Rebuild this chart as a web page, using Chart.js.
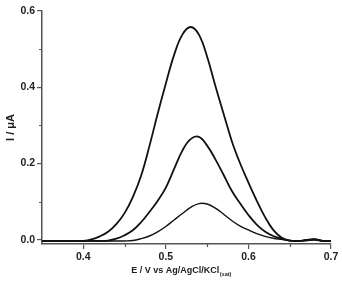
<!DOCTYPE html>
<html>
<head>
<meta charset="utf-8">
<script src="https://cdn.jsdelivr.net/npm/chart.js@4.4.1/dist/chart.umd.min.js"></script>
<style>
html,body{margin:0;padding:0;background:#fff;}
#wrap{position:relative;width:342px;height:289px;}
</style>
</head>
<body>
<div id="wrap"><canvas id="c" width="342" height="289"></canvas></div>
<script>
// Potential axis (V)
const potentials = [0.35,0.36,0.37,0.38,0.39,0.40,0.41,0.42,0.43,0.44,0.45,0.46,0.47,0.48,0.49,0.50,0.51,0.52,0.53,0.54,0.55,0.56,0.57,0.58,0.59,0.60,0.61,0.62,0.63,0.64,0.65,0.66,0.67,0.68,0.69,0.70];
// Current (µA) - largest peak
const currentHigh = [-0.003,-0.003,-0.003,-0.003,-0.003,-0.003,0.001,0.009,0.021,0.041,0.070,0.112,0.168,0.245,0.330,0.410,0.485,0.538,0.558,0.538,0.480,0.403,0.330,0.258,0.200,0.150,0.103,0.060,0.026,0.006,-0.002,-0.003,-0.002,0.000,-0.003,-0.003];
// Current (µA) - middle peak
const currentMid = [-0.003,-0.003,-0.003,-0.003,-0.003,-0.003,-0.003,-0.003,-0.002,0.003,0.012,0.025,0.046,0.073,0.102,0.137,0.186,0.234,0.264,0.270,0.247,0.211,0.170,0.128,0.095,0.065,0.040,0.022,0.010,0.003,-0.002,-0.003,-0.001,0.001,-0.003,-0.003];
// Current (µA) - smallest peak
const currentLow = [-0.003,-0.003,-0.003,-0.003,-0.003,-0.003,-0.003,-0.003,-0.003,-0.003,-0.003,-0.002,0.003,0.010,0.021,0.035,0.052,0.069,0.085,0.095,0.094,0.083,0.067,0.050,0.036,0.026,0.016,0.009,0.004,0.001,-0.002,-0.003,0.000,0.002,-0.003,-0.004];

const xTicks = [0.4,0.5,0.6,0.7];
const xMinorTicks = [0.45,0.55,0.65];
const yTicks = [0.0,0.2,0.4,0.6];
const yMinorTicks = [0.1,0.3,0.5];

const axisColor = '#555';
const textColor = '#222';
const FONT = '"Liberation Sans", Arial, sans-serif';

function toXY(ys){ return potentials.map((x,i)=>({x:x,y:ys[i]})); }

const minorTicksPlugin = {
  id:'minorTicks',
  afterDraw(chart){
    const ctx = chart.ctx;
    const xs = chart.scales.x, ys = chart.scales.y;
    const ca = chart.chartArea;
    ctx.save();
    ctx.strokeStyle = axisColor;
    ctx.lineWidth = 1.2;
    ctx.beginPath();
    xMinorTicks.forEach(v=>{
      const px = Math.round(xs.getPixelForValue(v))+0.5;
      ctx.moveTo(px, ca.bottom); ctx.lineTo(px, ca.bottom+3);
    });
    yMinorTicks.forEach(v=>{
      const py = Math.round(ys.getPixelForValue(v))+0.5;
      ctx.moveTo(ca.left, py); ctx.lineTo(ca.left-3, py);
    });
    ctx.stroke();
    // subscript for the x title
    const t = chart.options.scales.x.title;
    ctx.font = 'bold 9px ' + FONT;
    const main = 'E / V vs Ag/AgCl/KCl';
    const full = t.text;
    const wFull = ctx.measureText(full).width;
    const wMain = ctx.measureText(main).width;
    const cx = (xs.left + xs.right)/2;
    const startX = cx - wFull/2;
    const titleY = xs.bottom - (9*1.2/2 + t.padding.bottom);
    ctx.fillStyle = textColor;
    ctx.font = 'bold 5.5px ' + FONT;
    ctx.textBaseline = 'middle';
    ctx.textAlign = 'left';
    ctx.fillText('(sat)', startX + wMain + 0.5, titleY + 4);
    ctx.restore();
  }
};

new Chart(document.getElementById('c'), {
  type:'line',
  data:{
    datasets:[
      {data:toXY(currentHigh), borderColor:'#111', borderWidth:1.8},
      {data:toXY(currentMid), borderColor:'#111', borderWidth:1.8},
      {data:toXY(currentLow), borderColor:'#111', borderWidth:1.4}
    ]
  },
  options:{
    responsive:false,
    animation:false,
    devicePixelRatio:1,
    layout:{padding:{top:11,right:11,left:0,bottom:0}},
    elements:{point:{radius:0}, line:{tension:0.4, fill:false}},
    plugins:{legend:{display:false}, tooltip:{enabled:false}},
    scales:{
      x:{
        type:'linear', min:0.35, max:0.70,
        afterBuildTicks(s){ s.ticks = xTicks.map(v=>({value:v})); },
        afterFit(s){ s.height = 45; },
        ticks:{color:textColor, font:{family:FONT, size:10.5, weight:'bold'}, padding:2, maxRotation:0,
               callback:v=>Number(v).toFixed(1)},
        grid:{drawOnChartArea:false, drawTicks:true, tickLength:5, color:axisColor, lineWidth:1.2},
        border:{display:true, color:axisColor, width:1.5},
        title:{display:true, text:'E / V vs Ag/AgCl/KCl         ', color:textColor,
               font:{family:FONT, size:9, weight:'bold'}, padding:{top:0,bottom:13}}
      },
      y:{
        type:'linear', min:-0.011, max:0.6,
        afterBuildTicks(s){ s.ticks = yTicks.map(v=>({value:v})); },
        afterFit(s){ s.width = 42; },
        ticks:{color:textColor, font:{family:FONT, size:10.5, weight:'bold'}, padding:2,
               callback:v=>Number(v).toFixed(1)},
        grid:{drawOnChartArea:false, drawTicks:true, tickLength:5, color:axisColor, lineWidth:1.2},
        border:{display:true, color:axisColor, width:1.5},
        title:{display:true, text:'I / μA', color:textColor,
               font:{family:FONT, size:11, weight:'bold'}, padding:{top:4,bottom:0}}
      }
    }
  },
  plugins:[minorTicksPlugin]
});
</script>
</body>
</html>
